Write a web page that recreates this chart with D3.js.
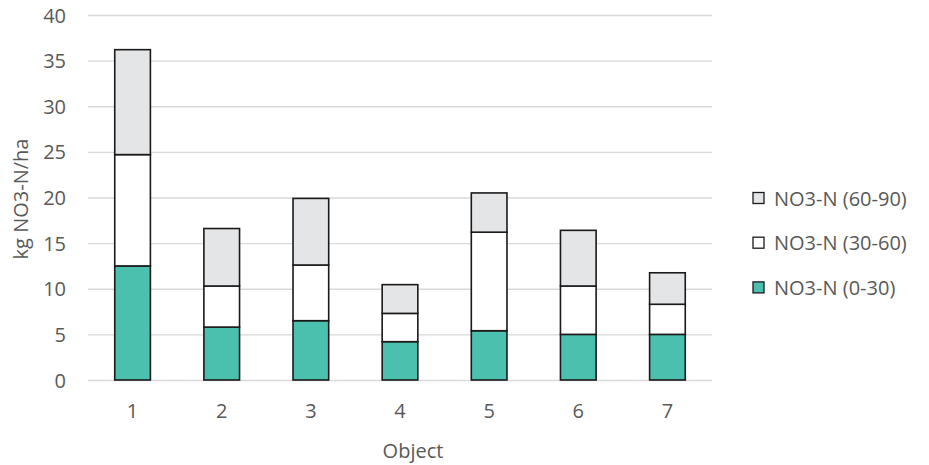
<!DOCTYPE html>
<html>
<head>
<meta charset="utf-8">
<script src="https://cdn.jsdelivr.net/npm/d3@7"></script>
<style>
html,body{margin:0;padding:0;background:#fff;}
svg{display:block;font-family:"Open Sans","Noto Sans",sans-serif;}
</style>
</head>
<body>
<svg id="chart" width="929" height="465"></svg>
<script>
const categories = ["1","2","3","4","5","6","7"];
const seriesNames = ["NO3-N (0-30)","NO3-N (30-60)","NO3-N (60-90)"];
const no3_0_30  = [12.5, 5.8, 6.5, 4.2, 5.4, 5.0, 5.0];
const no3_30_60 = [12.2, 4.5, 6.1, 3.1, 10.8, 5.3, 3.3];
const no3_60_90 = [11.5, 6.3, 7.3, 3.15, 4.3, 6.1, 3.45];
const yTicks = [0,5,10,15,20,25,30,35,40];
const colors = ["#4bc0ae","#ffffff","#e4e5e7"];

const data = categories.map((c,i)=>({cat:c, s0:no3_0_30[i], s1:no3_30_60[i], s2:no3_60_90[i]}));
const stack = d3.stack().keys(["s0","s1","s2"])(data);

const svg = d3.select("#chart");
const x = d3.scaleBand().domain(categories).range([88,712]).paddingInner(0.6).paddingOuter(0.3);
const y = d3.scaleLinear().domain([0,40]).range([380,15]);
const FONT = "'Open Sans','Noto Sans',sans-serif";

// gridlines
svg.append("g").selectAll("line").data(yTicks).join("line")
  .attr("x1",88).attr("x2",712)
  .attr("y1",d=>y(d)+0.5).attr("y2",d=>y(d)+0.5)
  .attr("stroke","#d9d9d9").attr("stroke-width",1.3);

// y axis labels
const yAxis = d3.axisLeft(y).tickValues(yTicks).tickSize(0).tickPadding(0);
const ya = svg.append("g").attr("transform","translate(66,0)").call(yAxis);
ya.select(".domain").remove();
ya.selectAll("text").attr("fill","#595959").attr("dy","0.35em").style("font-size","20px").style("font-family",FONT);

// x axis labels
const xAxis = d3.axisBottom(x).tickSize(0).tickPadding(0);
const xa = svg.append("g").attr("transform","translate(0,0)").call(xAxis);
xa.select(".domain").remove();
xa.selectAll("text").attr("fill","#595959").attr("y",418).attr("dy",0).style("font-size","20px").style("font-family",FONT);

// bars
svg.append("g").selectAll("g").data(stack).join("g")
  .attr("fill",(d,i)=>colors[i])
  .selectAll("rect").data(d=>d).join("rect")
  .attr("x",d=>x(d.data.cat))
  .attr("width",x.bandwidth())
  .attr("y",d=>y(d[1]))
  .attr("height",d=>y(d[0])-y(d[1]))
  .attr("stroke","#1a1a1a").attr("stroke-width",1.6);

// axis titles
svg.append("text").attr("x",413).attr("y",458).attr("text-anchor","middle")
  .attr("fill","#595959").style("font-size","20px").text("Object");
svg.append("text").attr("transform","translate(28,199) rotate(-90)").attr("text-anchor","middle")
  .attr("fill","#595959").style("font-size","20px").text("kg NO3-N/ha");

// legend (reverse order)
const legendItems = [2,1,0];
const lg = svg.append("g").selectAll("g").data(legendItems).join("g")
  .attr("transform",(d,i)=>`translate(753,${198 + i*44.7})`);
lg.append("rect").attr("x",0).attr("y",-5.5).attr("width",11).attr("height",11)
  .attr("fill",d=>colors[d]).attr("stroke","#1a1a1a").attr("stroke-width",1.3);
lg.append("text").attr("x",21).attr("y",7.5).attr("fill","#595959").style("font-size","20px")
  .text(d=>seriesNames[d]);
</script>
</body>
</html>
